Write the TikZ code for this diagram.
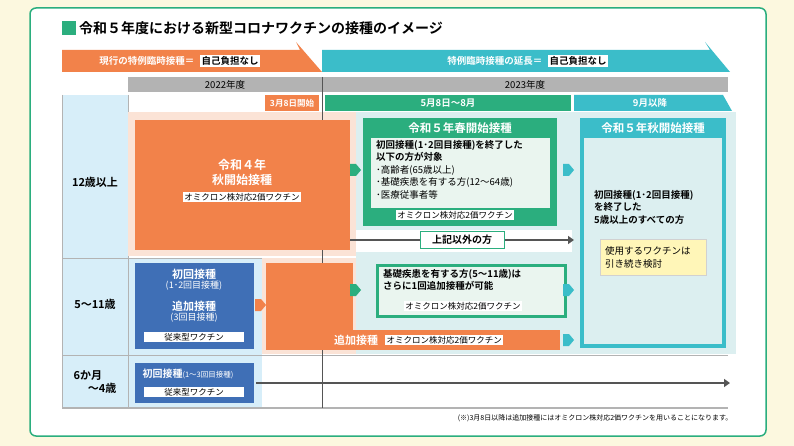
\documentclass[tikz,border=0pt]{standalone}
\usepackage{fontspec}
\setmainfont{Noto Sans CJK JP}
\newfontfamily\jb{Noto Sans CJK JP Bold}
\definecolor{org}{HTML}{F2824A}
\definecolor{peach}{HTML}{FBE3D6}
\definecolor{grn}{HTML}{2BAE7E}
\definecolor{lgrn}{HTML}{EAF5EF}
\definecolor{teal}{HTML}{3BBDC9}
\definecolor{lteal}{HTML}{DCEFF0}
\definecolor{blu}{HTML}{3F6FB6}
\definecolor{lblu}{HTML}{D7EEF9}
\definecolor{gry}{HTML}{B3B3B3}
\definecolor{bg}{HTML}{FCF8DF}
\definecolor{yel}{HTML}{FFF6B8}
\definecolor{dgry}{HTML}{555555}
\begin{document}
\begin{tikzpicture}[x=1pt,y=-1pt,
  tag/.style={fill=white,inner sep=1.5pt,font=\fontsize{8.5}{9}\selectfont},
  wt/.style={text=white,font=\jb\fontsize{11}{13}\selectfont,align=center},
  lnarrow/.style={draw=dgry,line width=2pt,-{Triangle[length=6pt,width=8pt]}}]
\usetikzlibrary{arrows.meta}
\fill[bg] (0,0) rectangle (794,446);
\draw[grn,line width=1.5pt,fill=white,rounded corners=6pt] (30,8) rectangle (766,436);
% title
\fill[grn] (62,21) rectangle (76,35);
\node[anchor=west,inner sep=0,font=\jb\fontsize{14}{16}\selectfont] (title) at (79,28) {令和５年度における新型コロナワクチンの接種のイメージ};
% top arrows
\fill[teal] (322,50) -- (710,50) -- (705,42) -- (730,72) -- (322,72) -- cycle;
\fill[org] (62,50) -- (300,50) -- (296,42) -- (322,72) -- (62,72) -- cycle;
\node[anchor=east,wt,font=\jb\fontsize{9.5}{10}\selectfont] (cur) at (198,61) {現行の特例臨時接種＝};
\node[anchor=west,tag,font=\jb\fontsize{9.5}{10}\selectfont] (cur2) at (200,61) {自己負担なし};
\node[anchor=east,wt,font=\jb\fontsize{9.5}{10}\selectfont] (ext) at (546,61) {特例臨時接種の延長＝};
\node[anchor=west,tag,font=\jb\fontsize{9.5}{10}\selectfont] (ext2) at (548,61) {自己負担なし};
% header
\fill[gry] (128,77) rectangle (728,92);
\draw[white,line width=1pt] (322,77) -- (322,92);
\node[font=\fontsize{9.5}{10}\selectfont] (y22) at (225,84.5) {2022年度};
\node[font=\fontsize{9.5}{10}\selectfont] (y23) at (525,84.5) {2023年度};
\fill[org] (265,95) rectangle (319,111);
\node[wt,font=\jb\fontsize{8.5}{10}\selectfont] (m3) at (292,103) {3月8日開始};
\fill[grn] (325,95) rectangle (571,111);
\node[wt,font=\jb\fontsize{9.5}{10}\selectfont] (m5) at (448,103) {5月8日～8月};
\fill[teal] (574,95) -- (723,95) -- (732,111) -- (574,111) -- cycle;
\node[wt,font=\jb\fontsize{9.5}{10}\selectfont] (m9) at (650,103) {9月以降};
% left column
\fill[lblu] (62,95) rectangle (128,408);
\fill[lblu] (128,258) rectangle (262,408);
\draw[gry,line width=0.8pt] (62,95) -- (62,408);
\draw[gry,line width=0.8pt] (128,95) -- (128,408);
\draw[gry,line width=0.8pt] (62,258) -- (356,258);
\draw[gry,line width=0.8pt] (62,355) -- (728,355);
\draw[gry,line width=1.5pt] (62,408) -- (728,408);
\node[font=\jb\fontsize{11}{13}\selectfont] (r1) at (95,182) {12歳以上};
\node[font=\jb\fontsize{11}{13}\selectfont] (r2) at (95,304) {5～11歳};
\node[font=\jb\fontsize{11}{13}\selectfont,align=left] (r3) at (95,382) {6か月\\\hspace{1.3em}～4歳};
% background regions
\fill[peach] (128,112) rectangle (356,256);
\fill[peach] (262,258) rectangle (356,354);
\fill[peach] (356,322) rectangle (572,354);
\fill[lteal] (356,112) rectangle (736,354);
\fill[white] (356,230) rectangle (572,252);
\draw[dgry] (322,77) -- (322,408);
% orange 12+
\fill[org] (135,120) rectangle (350,250);
\node[wt,font=\jb\fontsize{12}{15}\selectfont] (r4) at (242,172) {令和４年\\秋開始接種};
\node[tag] (r4t) at (242,197) {オミクロン株対応2価ワクチン};
% green spring
\fill[grn] (363,118) rectangle (557,226);
\node[wt,font=\jb\fontsize{11.5}{13}\selectfont] (r5s) at (460,128) {令和５年春開始接種};
\fill[lgrn] (371,138) rectangle (550,208);
\node[anchor=north west,inner sep=0,align=left,font=\fontsize{9.5}{12.5}\selectfont] (r5st) at (376,140) {{\jb 初回接種(1･2回目接種)を終了した}\\{\jb 以下の方が対象}\\･高齢者(65歳以上)\\･基礎疾患を有する方(12～64歳)\\･医療従事者等};
\node[tag] (r5stag) at (455,215) {オミクロン株対応2価ワクチン};
% other
\draw[lnarrow] (350,240) -- (574,240);
\node[fill=white,draw=grn,line width=1pt,font=\jb\fontsize{10}{11}\selectfont,minimum width=84pt,minimum height=16pt] (other) at (462,240) {上記以外の方};
% teal autumn
\draw[teal,line width=4pt,fill=lteal] (582,120) rectangle (724,346);
\fill[teal] (582,120) rectangle (724,138);
\node[wt,font=\jb\fontsize{11.5}{13}\selectfont] (r5a) at (653,128) {令和５年秋開始接種};
\node[anchor=north west,inner sep=0,align=left,font=\jb\fontsize{9.5}{12.5}\selectfont] (r5at) at (594,190) {初回接種(1･2回目接種)\\を終了した\\5歳以上のすべての方};
\node[fill=yel,draw=gry!60,font=\fontsize{9.5}{13}\selectfont,align=left,minimum width=106pt,minimum height=36pt,text width=96pt] (yel) at (653,257) {使用するワクチンは\\引き続き検討};
% 5-11
\fill[blu] (135,263) rectangle (254,349);
\node[wt] (b1) at (194,280) {初回接種\\[-3pt]{\normalfont\fontsize{9}{10}\selectfont (1･2回目接種)}};
\node[wt] (b2) at (194,312) {追加接種\\[-3pt]{\normalfont\fontsize{9}{10}\selectfont (3回目接種)}};
\node[tag,minimum width=100pt] (b3) at (194,337) {従来型ワクチン};
\fill[org] (266,263) rectangle (353,350);
\fill[org] (353,330) rectangle (560,350);
\node[wt] (add) at (356,340) {追加接種};
\node[tag,anchor=west] (addt) at (385,340) {オミクロン株対応2価ワクチン};
\draw[grn,line width=3pt,fill=lgrn] (377,265) rectangle (565,316);
\node[anchor=north west,inner sep=0,align=left,font=\jb\fontsize{9.5}{12.5}\selectfont] (gt) at (383,269) {基礎疾患を有する方(5～11歳)は\\さらに1回追加接種が可能};
\node[tag] (gtt) at (463,306) {オミクロン株対応2価ワクチン};
% 6m-4
\fill[blu] (135,363) rectangle (254,403);
\node[wt,font=\jb\fontsize{10}{11}\selectfont,anchor=west] (c1) at (139,374) {初回接種{\normalfont\fontsize{7.5}{8}\selectfont (1～3回目接種)}};
\node[tag,minimum width=100pt] (c2) at (194,392) {従来型ワクチン};
\draw[lnarrow] (256,383) -- (730,383);
% chevrons
\foreach \x/\y/\c in {350/170/grn,350/290/grn,563/170/teal,563/290/teal,563/340/teal,255/305/org}{
  \fill[\c] (\x,\y-6) -- (\x+6,\y-6) -- (\x+11,\y) -- (\x+6,\y+6) -- (\x,\y+6) -- cycle;}
\node[anchor=east,font=\fontsize{7}{8}\selectfont] (fn) at (736,418) {(※)3月8日以降は追加接種にはオミクロン株対応2価ワクチンを用いることになります。};
\end{tikzpicture}
\end{document}
